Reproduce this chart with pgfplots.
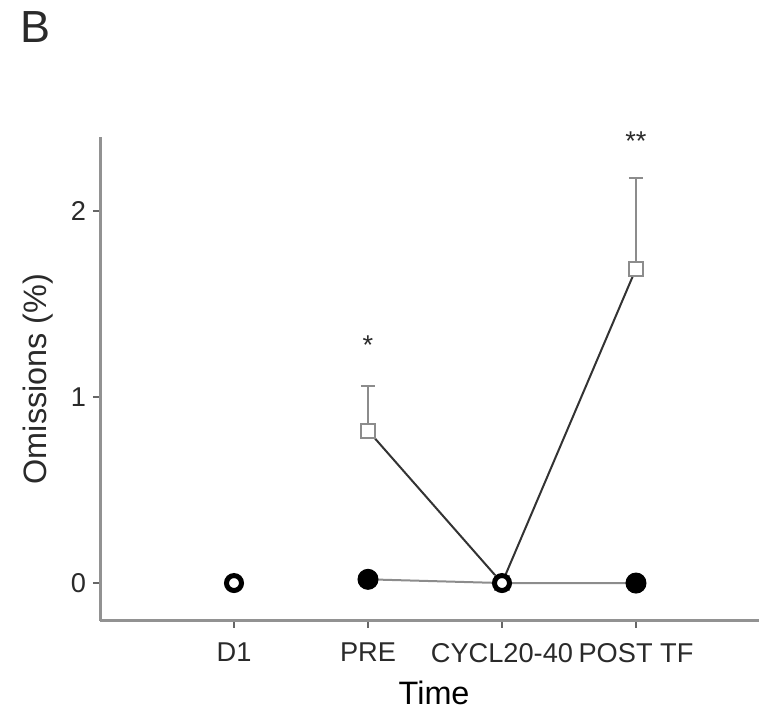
\documentclass[border=0pt]{standalone}
\usepackage{fontspec}
\setmainfont{Liberation Sans}
\usepackage{pgfplots}
\pgfplotsset{compat=1.18}
\definecolor{axgray}{HTML}{929292}
\definecolor{linedark}{HTML}{333333}
\definecolor{linegray}{HTML}{8C8C8C}
\definecolor{txt}{HTML}{2A2A2A}
\begin{document}
\begin{tikzpicture}
\begin{axis}[
  name=ax, scale only axis, width=329.5pt, height=242pt,
  xmin=0, xmax=4.918, ymin=-0.204, ymax=2.398,
  axis x line*=bottom, axis y line*=left,
  axis line style={-, axgray, line width=1.5pt},
  xtick={1,2,3,4}, xticklabels={D1,PRE,CYCL20-40,POST TF},
  ytick={0,1,2},
  tick align=outside, major tick length=3.5pt,
  tick style={color=gray!80!black, line width=1pt},
  /pgf/number format/assume math mode=true,
  xticklabel style={font=\fontsize{13.6}{16}\selectfont, text=txt, yshift=-4pt},
  yticklabel style={font=\fontsize{13.6}{16}\selectfont, text=txt},
  xlabel={Time}, ylabel={Omissions (\%)},
  xlabel style={font=\fontsize{16.2}{19}\selectfont, at={(axis description cs:0.507,-0.149)}, anchor=center},
  ylabel style={font=\fontsize{16.2}{19}\selectfont, text=txt, at={(axis description cs:-0.094,0.5)}, anchor=center},
  clip=false,
]
% error bars (upward only)
\addplot[only marks, mark=none, forget plot,
  error bars/.cd, y dir=plus, y explicit,
  error bar style={linegray, line width=1pt},
  error mark options={rotate=90, linegray, mark size=3.5pt, line width=1pt}]
  table[x=x, y=y, y error=e] {
x y e
2 0.82 0.24
4 1.69 0.49
};
% grey line with filled circles
\addplot[linegray, line width=1pt, mark=*, mark indices={1,3}, mark size=5pt,
  mark options={fill=black, draw=black, line width=0.5pt}]
  coordinates {(2,0.02) (3,0) (4,0)};
% dark line with open squares
\addplot[linedark, line width=1pt, mark=square*, mark size=3.5pt,
  mark options={fill=white, draw=linegray, line width=1pt}]
  coordinates {(2,0.82) (3,0) (4,1.69)};
% open circles
\addplot[only marks, mark=*, mark size=3.75pt,
  mark options={fill=white, draw=black, line width=2.5pt}]
  coordinates {(1,0) (3,0)};
% significance stars
\node[anchor=north, inner sep=0pt, font=\fontsize{13.6}{16}\selectfont, text=txt] at (axis cs:2,1.333) {*};
\node[anchor=north, inner sep=0pt, font=\fontsize{13.6}{16}\selectfont, text=txt] at (axis cs:4,2.43) {**};
% panel letter
\node[anchor=north west, inner sep=0pt, font=\fontsize{22.5}{26}\selectfont, text=txt] at (axis description cs:-0.122,1.2603) {B};
\end{axis}
\pgfresetboundingbox
\useasboundingbox (ax.south west) ++(-50pt,-44.5pt) rectangle ++(379.5pt,355pt);
\end{tikzpicture}
\end{document}
